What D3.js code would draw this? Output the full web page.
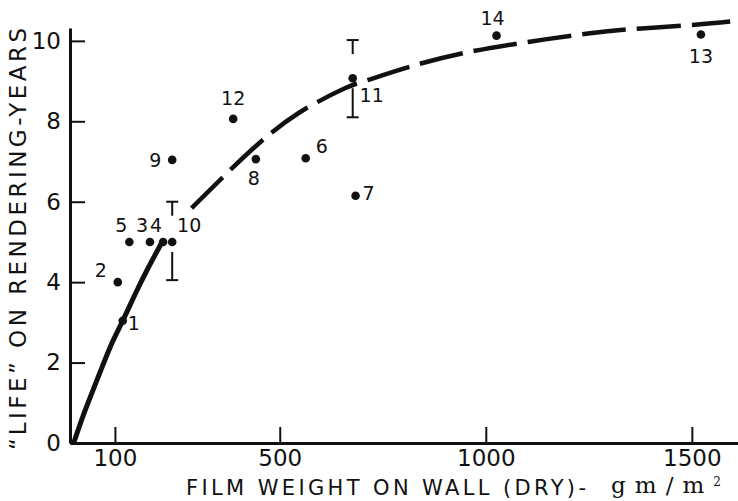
<!DOCTYPE html>
<html>
<head>
<meta charset="utf-8">
<script src="https://cdn.jsdelivr.net/npm/d3@7"></script>
<style>
  body { margin: 0; background: #fff; }
  text { font-family: "DejaVu Sans", sans-serif; fill: #111; }
</style>
</head>
<body>
<svg id="drawing-area"></svg>
<script>
// rendering samples: film weight on wall (gm/m2) vs "life" (years)
var ids    = [1, 2, 3, 4, 5, 6, 7, 8, 9, 10, 11, 12, 13, 14];
var weight = [119, 107, 185, 217, 135, 563, 684, 442, 239, 239, 677, 387, 1522, 1026];
var life   = [3.04, 4.0, 5.0, 5.0, 5.0, 7.08, 6.15, 7.06, 7.04, 5.0, 9.07, 8.06, 10.16, 10.13];

// range bars (samples 10 and 11)
var barIds  = [10, 11];
var barLow  = [4.05, 8.1];
var barHigh = [6.0, 10.02];

// fitted curve: solid part then dashed part
var solidX  = [0, 27, 59, 90, 119, 149, 180, 214];
var solidY  = [0, 0.79, 1.63, 2.42, 3.04, 3.70, 4.34, 4.99];
var dashX   = [286, 355, 436, 545, 658, 703, 816, 962, 1107, 1253, 1378, 1508, 1593];
var dashY   = [5.84, 6.54, 7.33, 8.2, 8.82, 8.99, 9.36, 9.73, 9.98, 10.19, 10.31, 10.40, 10.48];

var xTicks = [100, 500, 1000, 1500];
var yTicks = [0, 2, 4, 6, 8, 10];

// where each number sits next to its dot (px)
var labelOffset = {
  1: [11, 9], 2: [-17, -5], 3: [-8, -10], 4: [-7, -10], 5: [-8, -10],
  6: [16, -5], 7: [13, 4], 8: [-2, 26], 9: [-17, 7], 10: [17, -10],
  11: [19, 24], 12: [0, -14], 13: [0, 29], 14: [-4, -11]
};

var width = 738;
var height = 501;
var ink = "#111";

var svg = d3.select("#drawing-area")
    .attr("width", width)
    .attr("height", height);

var xScale = d3.scaleLinear()
    .domain([-9, 1612])
    .range([70, 738]);

var yScale = d3.scaleLinear()
    .domain([0, 10.32])
    .range([443, 28]);

var points = ids.map(function(id, i){
    return {id: id, x: weight[i], y: life[i]};
});

// axes
var xAxis = d3.axisBottom(xScale)
    .tickValues(xTicks)
    .tickFormat(d3.format("d"))
    .tickSizeInner(-16)
    .tickSizeOuter(0)
    .tickPadding(7);

var yAxis = d3.axisLeft(yScale)
    .tickValues(yTicks)
    .tickSizeInner(-15)
    .tickSizeOuter(0)
    .tickPadding(9);

var gx = svg.append("g")
    .attr("transform", "translate(0,443)")
    .call(xAxis);

var gy = svg.append("g")
    .attr("transform", "translate(70,0)")
    .call(yAxis);

[gx, gy].forEach(function(g){
    g.select(".domain").attr("stroke", ink).attr("stroke-width", 3);
    g.selectAll(".tick line").attr("stroke", ink).attr("stroke-width", 2);
    g.selectAll(".tick text")
        .attr("fill", ink)
        .style("font-family", "DejaVu Sans, sans-serif")
        .style("font-size", "23px");
});

// curve
var line = d3.line()
    .x(function(d){ return xScale(d[0]); })
    .y(function(d){ return yScale(d[1]); })
    .curve(d3.curveNatural);

svg.append("path")
    .attr("d", line(d3.zip(solidX, solidY)))
    .attr("fill", "none")
    .attr("stroke", ink)
    .attr("stroke-width", 5);

svg.append("path")
    .attr("d", line(d3.zip(dashX, dashY)))
    .attr("fill", "none")
    .attr("stroke", ink)
    .attr("stroke-width", 4.5)
    .attr("stroke-dasharray", "44 11");

// range bars: a short T on top, an open stem below the dot
barIds.forEach(function(id, i){
    var p = points.find(function(d){ return d.id === id; });
    var cx = xScale(p.x);
    var cy = yScale(p.y);
    var top = yScale(barHigh[i]);
    var bot = yScale(barLow[i]);
    var g = svg.append("g").attr("stroke", ink).attr("stroke-width", 2);
    g.append("line").attr("x1", cx - 6).attr("x2", cx + 6).attr("y1", top).attr("y2", top);
    g.append("line").attr("x1", cx).attr("x2", cx).attr("y1", top).attr("y2", top + 14);
    g.append("line").attr("x1", cx).attr("x2", cx).attr("y1", cy + 10).attr("y2", bot);
    g.append("line").attr("x1", cx - 6).attr("x2", cx + 6).attr("y1", bot).attr("y2", bot);
});

// dots
svg.selectAll(".dot")
    .data(points)
    .enter()
    .append("circle")
    .attr("class", "dot")
    .attr("cx", function(d){ return xScale(d.x); })
    .attr("cy", function(d){ return yScale(d.y); })
    .attr("r", 4.3)
    .attr("fill", ink);

svg.selectAll(".num")
    .data(points)
    .enter()
    .append("text")
    .attr("class", "num")
    .attr("text-anchor", "middle")
    .style("font-size", "19px")
    .attr("x", function(d){ return xScale(d.x) + labelOffset[d.id][0]; })
    .attr("y", function(d){ return yScale(d.y) + labelOffset[d.id][1]; })
    .text(function(d){ return d.id; });

// axis titles
svg.append("text")
    .attr("x", 186)
    .attr("y", 495)
    .attr("textLength", 400)
    .attr("lengthAdjust", "spacing")
    .style("font-size", "21px")
    .text("FILM WEIGHT ON WALL (DRY)-");

svg.append("text")
    .attr("x", 611)
    .attr("y", 493)
    .attr("textLength", 110)
    .attr("lengthAdjust", "spacing")
    .style("font-family", "DejaVu Serif, serif")
    .style("font-size", "23px")
    .html("gm/m<tspan dy='-7' style='font-size:12px'>2</tspan>");

svg.append("text")
    .attr("transform", "translate(26,239) rotate(-90)")
    .attr("text-anchor", "middle")
    .attr("textLength", 422)
    .attr("lengthAdjust", "spacing")
    .style("font-size", "23px")
    .text("\u201CLIFE\u201D ON RENDERING-YEARS");
</script>
</body>
</html>
